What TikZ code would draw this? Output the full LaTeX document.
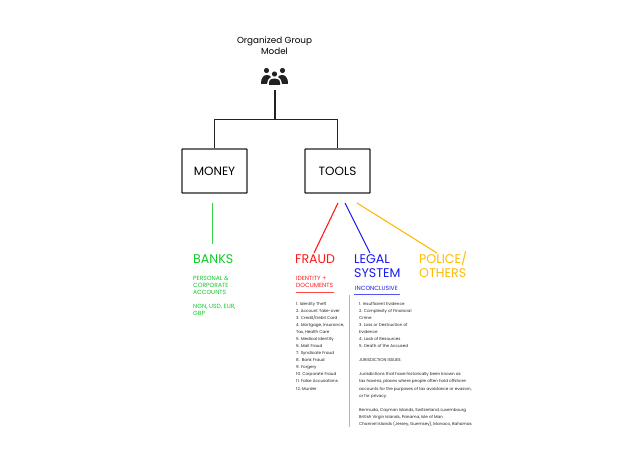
\documentclass[tikz,border=0pt]{standalone}
\usepackage{fontspec}
\setmainfont{Poppins}
\definecolor{dk}{HTML}{222222}
\definecolor{gr}{HTML}{12C92A}
\definecolor{rd}{HTML}{FF1A1A}
\definecolor{bl}{HTML}{1A1AF0}
\definecolor{yl}{HTML}{FBBC04}
\tikzset{
  boxn/.style={draw=dk,line width=1.3pt,rounded corners=0.6pt,minimum width=65pt,minimum height=44pt,inner sep=0pt,font=\fontsize{12}{12}\selectfont,text=black},
  wire/.style={draw=dk,line width=1.3pt},
  cwire/.style={line width=1.1pt},
  head/.style={anchor=base west,inner sep=0pt,font=\fontsize{12.6}{14}\selectfont,align=left},
  sub/.style={anchor=base west,inner sep=0pt,font=\fontsize{6}{7}\selectfont,align=left},
  small/.style={anchor=base west,inner sep=0pt,font=\fontsize{4.1}{7.08}\selectfont,align=left,text=dk},
}
\begin{document}
\begin{tikzpicture}[x=1pt,y=-1pt]
\useasboundingbox (0,0) rectangle (640,452);
\fill[white] (0,0) rectangle (640,452);
\node[anchor=base,inner sep=0pt,align=center,font=\fontsize{8.8}{11.3}\selectfont] (title) at (274.5,54.5) {Organized Group\\Model};
% icon
\fill[dk] (266.5,70.5) circle (2.6pt) (282.5,70.5) circle (2.6pt);
\fill[dk] (261,84) .. controls (261,77) and (264,75) .. (267,75) .. controls (269,75) and (270.5,76) .. (271,77) .. controls (268,79) and (267,81) .. (267,84) -- cycle;
\fill[dk] (288,84) .. controls (288,77) and (285,75) .. (282,75) .. controls (280,75) and (278.5,76) .. (278,77) .. controls (281,79) and (282,81) .. (282,84) -- cycle;
\fill[dk] (274.5,74) circle (2.6pt);
\fill[dk] (269,85) -- (269,83) .. controls (269,79.5) and (271.5,78.5) .. (274.5,78.5) .. controls (277.5,78.5) and (280,79.5) .. (280,83) -- (280,85) -- cycle;
\coordinate (stem) at (275,90);
\coordinate (fork) at (275,119.5);
\node[boxn] (money) at (214.5,171) {MONEY};
\node[boxn] (tools) at (337.5,171) {TOOLS};
\draw[wire] (stem) -- (fork);
\draw[wire] (money.north) |- (fork) -| (tools.north);
% coloured connectors
\coordinate (g1) at (212.9,203);\coordinate (g2) at (212.9,244);
\coordinate (r1) at (338,203);\coordinate (r2) at (314,253);
\coordinate (b1) at (345,203);\coordinate (b2) at (370,253);
\coordinate (y1) at (357,203);\coordinate (y2) at (437,253);
\draw[gr!85!white,line width=1pt] (g1) -- (g2);
\draw[rd,cwire] (r1) -- (r2);
\draw[bl,cwire] (b1) -- (b2);
\draw[yl,cwire] (y1) -- (y2);
% headings
\node[head,text=gr] (banks) at (193,263) {BANKS};
\node[head,text=rd] (fraud) at (295,263) {FRAUD};
\node[head,text=bl] (legal) at (354,277) {LEGAL\\SYSTEM};
\node[head,text=yl] (police) at (419,277) {POLICE/\\OTHERS};
\node[sub,text=gr] (acc) at (193,294) {PERSONAL \&\\CORPORATE\\ACCOUNTS};
\node[sub,text=gr] (cur) at (193,315) {NGN, USD, EUR,\\GBP};
\node[sub,text=rd] (idd) at (296,287) {IDENTITY +\\DOCUMENTS};
\node[sub,text=bl] (inc) at (355,290.5) {INCONCLUSIVE};
\coordinate (ru1) at (296,292);\coordinate (ru2) at (334,292);
\coordinate (bu1) at (354,294.5);\coordinate (bu2) at (400,294.5);
\coordinate (v1) at (349.5,295);\coordinate (v2) at (349.5,427);
\draw[rd!80,line width=.7pt] (ru1) -- (ru2);
\draw[bl!75,line width=.7pt] (bu1) -- (bu2);
\draw[black!30,line width=.7pt] (v1) -- (v2);
\node[small] (list1) at (296,390) {1. Identity Theft\\2. Account Take-over\\3. Credit/Debit Card\\4. Mortgage, Insurance,\\Tax, Health Care\\5. Medical Identity\\6. Mail Fraud\\7. Syndicate Fraud\\8. \,Bank Fraud\\9. Forgery\\10. Corporate Fraud\\11. False Accusations\\12. Murder};
\node[small] (list2) at (359,425.4) {1. Insufficient Evidence\\2. Complexity of Financial\\Crime\\3. Loss or Destruction of\\Evidence\\4. Lack of Resources\\5. Death of the Accused\\[7.08pt]JURISDICTION ISSUES:\\[7.08pt]Jurisdictions that have historically been known as\\tax havens, places where people often hold offshore\\accounts for the purposes of tax avoidance or evasion,\\or for privacy.\\[7.08pt]Bermuda, Cayman Islands, Switzerland, Luxembourg\\British Virgin Islands, Panama, Isle of Man\\Channel Islands (Jersey, Guernsey), Monaco, Bahamas};
\end{tikzpicture}
\end{document}
